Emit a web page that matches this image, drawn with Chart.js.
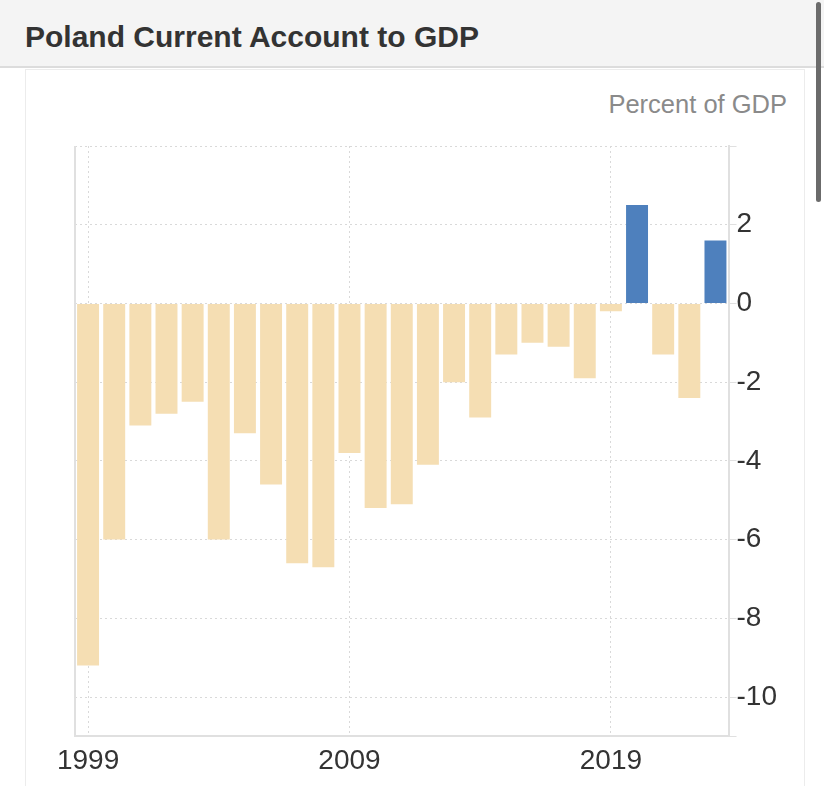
<!DOCTYPE html>
<html>
<head>
<meta charset="utf-8">
<script src="https://cdn.jsdelivr.net/npm/chart.js@4"></script>
<style>
  html, body { margin: 0; padding: 0; background: #fff; }
  body { width: 824px; height: 786px; position: relative; overflow: hidden; font-family: "Liberation Sans", Arial, sans-serif; }
  #header { position: absolute; left: 0; top: 0; width: 824px; height: 66px; background: #f4f4f4; border-bottom: 2px solid #dcdcdc; }
  #title { position: absolute; left: 25px; top: 20px; font-size: 30px; font-weight: bold; color: #333; }
  #panel { position: absolute; left: 25px; top: 69px; width: 778px; height: 730px; border: 1px solid #ececec; background: #fff; }
  #unit { position: absolute; right: 37px; top: 90px; font-size: 25.5px; color: #8a8a8a; }
  #wrap { position: absolute; left: 25px; top: 120px; width: 780px; height: 666px; }
  #scroll { position: absolute; left: 816px; top: 2px; width: 5px; height: 200px; border-radius: 3px; background: #6b6b6b; }
</style>
</head>
<body>
<div id="header"><div id="title">Poland Current Account to GDP</div></div>
<div id="panel"></div>
<div id="unit">Percent of GDP</div>
<div id="wrap"><canvas id="chart"></canvas></div>
<div id="scroll"></div>
<script>
const years = ["1999","2000","2001","2002","2003","2004","2005","2006","2007","2008","2009","2010","2011","2012","2013","2014","2015","2016","2017","2018","2019","2020","2021","2022","2023"];
const values = [-9.2,-6.0,-3.1,-2.8,-2.5,-6.0,-3.3,-4.6,-6.6,-6.7,-3.8,-5.2,-5.1,-4.1,-2.0,-2.9,-1.3,-1.0,-1.1,-1.9,-0.2,2.5,-1.3,-2.4,1.6];
const shownYears = ["1999","2009","2019"];

const gridColor = "#d9d9d9";
const axisColor = "#e0e0e0";

// plain line on the left edge of the plot
const leftEdge = {
  id: "leftEdge",
  afterDraw(c) {
    const a = c.chartArea, ctx = c.ctx;
    ctx.save();
    ctx.strokeStyle = axisColor;
    ctx.lineWidth = 2;
    ctx.beginPath();
    ctx.moveTo(a.left, a.top);
    ctx.lineTo(a.left, a.bottom);
    ctx.stroke();
    ctx.restore();
  }
};

new Chart(document.getElementById("chart"), {
  type: "bar",
  data: {
    labels: years,
    datasets: [{
      data: values,
      backgroundColor: values.map(v => v >= 0 ? "#4e80bd" : "#f5deb3"),
      borderWidth: 0,
      categoryPercentage: 1,
      barPercentage: 0.84
    }]
  },
  options: {
    responsive: true,
    maintainAspectRatio: false,
    animation: false,
    layout: { padding: { left: 50, top: 26, right: 28, bottom: 0 } },
    plugins: { legend: { display: false }, tooltip: { enabled: false } },
    scales: {
      x: {
        offset: true,
        grid: {
          offset: false,
          drawTicks: false,
          color: ctx => shownYears.includes(years[ctx.index]) ? gridColor : "rgba(0,0,0,0)"
        },
        border: { display: true, color: axisColor, width: 2, dash: [2, 3] },
        ticks: {
          autoSkip: false,
          maxRotation: 0,
          padding: 8,
          color: "#333",
          font: { family: "Liberation Sans", size: 28 },
          callback: (v, i) => shownYears.includes(years[i]) ? years[i] : ""
        }
      },
      y: {
        position: "right",
        min: -11,
        max: 4,
        grid: {
          color: ctx => ctx.tick && ctx.tick.value === -11 ? "rgba(0,0,0,0)" : gridColor,
          tickColor: axisColor,
          tickLength: 8
        },
        border: { display: true, color: axisColor, width: 2, dash: [2, 3] },
        ticks: {
          stepSize: 2,
          padding: 0,
          color: "#333",
          font: { family: "Liberation Sans", size: 28 },
          callback: v => (v === 4 || v === -11) ? "" : v
        }
      }
    }
  },
  plugins: [leftEdge]
});
</script>
</body>
</html>
